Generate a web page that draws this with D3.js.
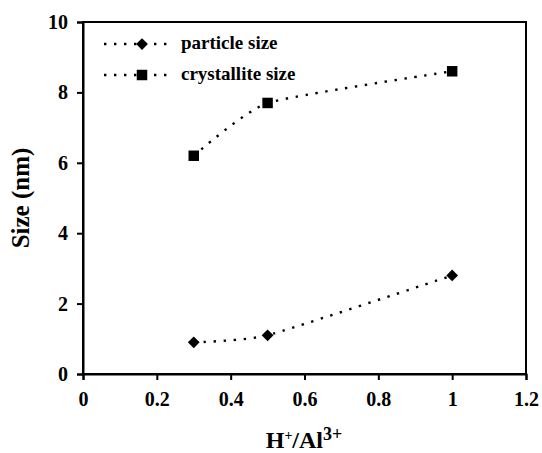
<!DOCTYPE html>
<html>
<head>
<meta charset="utf-8">
<script src="https://cdn.jsdelivr.net/npm/d3@7"></script>
<style>
  html, body { margin: 0; padding: 0; background: #fff; }
  svg { display: block; font-family: "Liberation Serif", "Times New Roman", serif; font-weight: bold; }
</style>
</head>
<body>
<svg id="chart" width="542" height="453"></svg>
<script>
// H+/Al3+ molar ratios and measured sizes (nm)
const ratios = [0.3, 0.5, 1];
const particleSize = [0.9, 1.1, 2.8];
const crystalliteSize = [6.2, 7.7, 8.6];
const seriesNames = ["particle size", "crystallite size"];
const xTicks = [0, 0.2, 0.4, 0.6, 0.8, 1, 1.2];
const yTicks = [0, 2, 4, 6, 8, 10];

const svg = d3.select("#chart");
const margin = { left: 83, right: 16, top: 22, bottom: 79 };
const W = 542, H = 453;

const x = d3.scaleLinear().domain([0, 1.2]).range([margin.left, W - margin.right]);
const y = d3.scaleLinear().domain([0, 10]).range([H - margin.bottom, margin.top]);

// frame
svg.append("rect")
  .attr("x", x(0)).attr("y", y(10))
  .attr("width", x(1.2) - x(0)).attr("height", y(0) - y(10))
  .attr("fill", "none").attr("stroke", "#000").attr("stroke-width", 2);

// axes
const xAxis = svg.append("g")
  .attr("transform", `translate(0,${y(0)})`)
  .call(d3.axisBottom(x).tickValues(xTicks).tickSize(6).tickPadding(12).tickFormat(d => d3.format("")(d)));
const yAxis = svg.append("g")
  .attr("transform", `translate(${x(0)},0)`)
  .call(d3.axisLeft(y).tickValues(yTicks).tickSize(6).tickPadding(9));

[xAxis, yAxis].forEach(g => {
  g.select(".domain").attr("stroke", "#000").attr("stroke-width", 2);
  g.selectAll(".tick line").attr("stroke", "#000").attr("stroke-width", 2);
  g.selectAll(".tick text")
    .attr("fill", "#000")
    .style("font-family", "'Liberation Serif', serif")
    .style("font-weight", "bold")
    .style("font-size", "20px");
});

// series lines (smoothed, dotted)
const line = d3.line().x(d => x(d[0])).y(d => y(d[1])).curve(d3.curveCardinal.tension(0.5));
const series = [
  { name: seriesNames[0], values: particleSize, marker: d3.symbolDiamond2, size: 88 },
  { name: seriesNames[1], values: crystalliteSize, marker: d3.symbolSquare, size: 110 }
];

series.forEach(s => {
  const pts = ratios.map((r, i) => [r, s.values[i]]);
  svg.append("path")
    .attr("d", line(pts))
    .attr("fill", "none").attr("stroke", "#000")
    .attr("stroke-width", 2.4).attr("stroke-dasharray", "2.4,7.6");
  svg.selectAll(null).data(pts).enter().append("path")
    .attr("transform", d => `translate(${x(d[0])},${y(d[1])})`)
    .attr("d", d3.symbol().type(s.marker).size(s.size))
    .attr("fill", "#000");
});

// legend
const legend = svg.append("g");
series.forEach((s, i) => {
  const ly = 44 + i * 31;
  legend.append("line")
    .attr("x1", 104).attr("x2", 174).attr("y1", ly).attr("y2", ly)
    .attr("stroke", "#000").attr("stroke-width", 2.4).attr("stroke-dasharray", "2.4,7.6");
  legend.append("path")
    .attr("transform", `translate(142,${ly})`)
    .attr("d", d3.symbol().type(s.marker).size(s.size))
    .attr("fill", "#000");
  legend.append("text")
    .attr("x", 181).attr("y", ly + 5)
    .style("font-size", "19px")
    .text(s.name);
});

// axis titles
svg.append("text")
  .attr("transform", `translate(29,198) rotate(-90)`)
  .attr("text-anchor", "middle")
  .style("font-size", "25px")
  .text("Size (nm)");

const xt = svg.append("text")
  .attr("x", 304).attr("y", 448)
  .attr("text-anchor", "middle")
  .style("font-size", "24px");
xt.append("tspan").text("H");
xt.append("tspan").attr("dy", -8).style("font-size", "14px").text("+");
xt.append("tspan").attr("dy", 8).text("/Al");
xt.append("tspan").attr("dy", -8).style("font-size", "18px").text("3+");
</script>
</body>
</html>
